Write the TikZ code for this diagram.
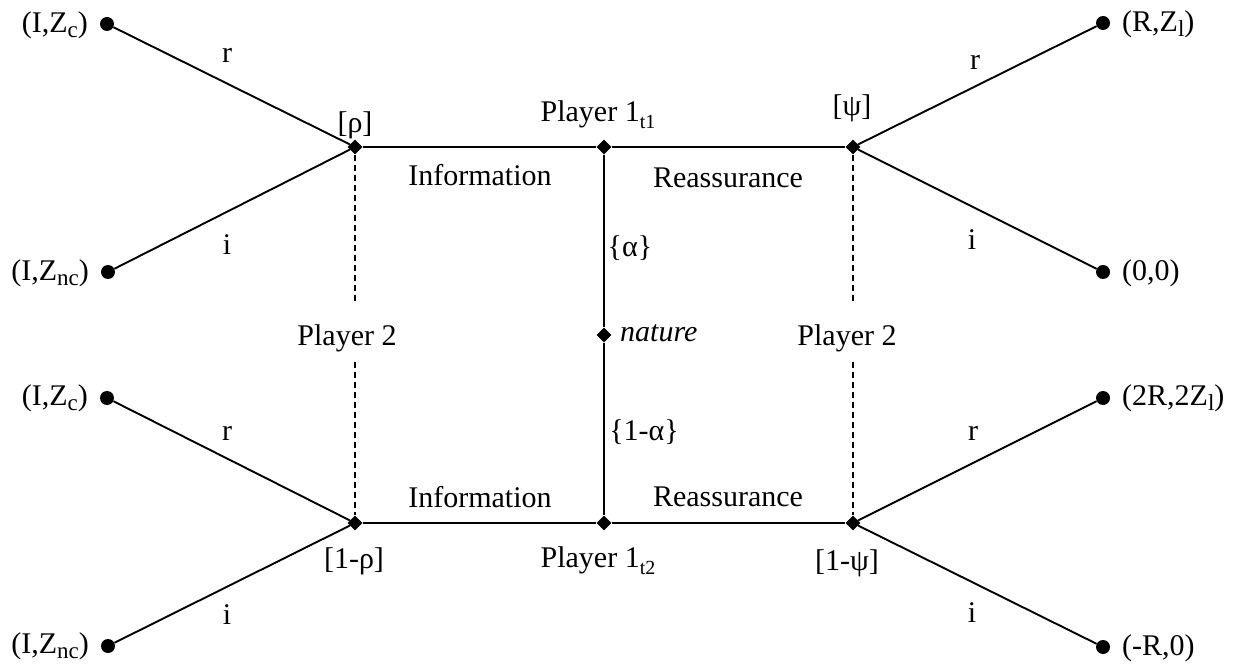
\documentclass[tikz,border=0pt]{standalone}
\usepackage{fontspec}
\setmainfont{Liberation Serif}
\usetikzlibrary{shapes.geometric}
\newcommand\mysub[1]{\raisebox{-7pt}{\fontsize{20}{22}\selectfont #1}}
\newcommand\paysub[1]{\raisebox{-5pt}{\fontsize{23}{26}\selectfont #1}}
\tikzset{
  dec/.style={diamond, fill=black, inner sep=0pt, minimum size=15pt},
  leaf/.style={circle, fill=black, inner sep=0pt, minimum size=14pt},
  txt/.style={inner sep=0pt, font=\fontsize{30}{36}\selectfont},
  edge/.style={line width=1.9pt},
  infoset/.style={line width=1.7pt, dash pattern=on 6pt off 4pt}
}
\begin{document}
\begin{tikzpicture}[x=1pt,y=-1pt]
\useasboundingbox (0,0) rectangle (1237,668);
% decision nodes
\node[dec] (A) at (355,147) {};
\node[dec] (B) at (604,147) {};
\node[dec] (C) at (853,147) {};
\node[dec] (N) at (604,335) {};
\node[dec] (D) at (355,523) {};
\node[dec] (E) at (604,523) {};
\node[dec] (F) at (853,523) {};
% leaves
\node[leaf] (l1) at (107,24) {};
\node[leaf] (l2) at (108,272) {};
\node[leaf] (l3) at (107,398) {};
\node[leaf] (l4) at (108,646) {};
\node[leaf] (r1) at (1103,23) {};
\node[leaf] (r2) at (1103,272) {};
\node[leaf] (r3) at (1103,398) {};
\node[leaf] (r4) at (1103,647) {};
% edges
\draw[edge] (A) -- (B) -- (C);
\draw[edge] (B) -- (N) -- (E);
\draw[edge] (D) -- (E) -- (F);
\draw[edge] (l1) -- (A);
\draw[edge] (l2) -- (A);
\draw[edge] (l3) -- (D);
\draw[edge] (l4) -- (D);
\draw[edge] (r1) -- (C);
\draw[edge] (r2) -- (C);
\draw[edge] (r3) -- (F);
\draw[edge] (r4) -- (F);
% information sets
\coordinate (da1) at (355,303);
\coordinate (da2) at (355,362);
\coordinate (dc1) at (853,303);
\coordinate (dc2) at (853,362);
\draw[infoset] (A) -- (da1);
\draw[infoset] (da2) -- (D);
\draw[infoset] (C) -- (dc1);
\draw[infoset] (dc2) -- (F);
% leaf payoffs
\node[txt, anchor=east] (pl1) at (88,25) {(I,Z\paysub{c})};
\node[txt, anchor=east] (pl2) at (89,273) {(I,Z\paysub{nc})};
\node[txt, anchor=east] (pl3) at (88,398) {(I,Z\paysub{c})};
\node[txt, anchor=east] (pl4) at (89,646) {(I,Z\paysub{nc})};
\node[txt, anchor=west] (pr1) at (1122,24) {(R,Z\paysub{l})};
\node[txt, anchor=west] (pr2) at (1122,273) {(0,0)};
\node[txt, anchor=west] (pr3) at (1122,398) {(2R,2Z\paysub{l})};
\node[txt, anchor=west] (pr4) at (1122,648) {(-R,0)};
% action labels
\node[txt] (a1) at (227,55) {r};
\node[txt] (a2) at (227,245) {i};
\node[txt] (a3) at (227,433) {r};
\node[txt] (a4) at (227,615) {i};
\node[txt] (a5) at (975,62) {r};
\node[txt] (a6) at (972,240) {i};
\node[txt] (a7) at (973,433) {r};
\node[txt] (a8) at (972,613) {i};
% beliefs and players
\node[txt] (bA) at (355,125) {[ρ]};
\node[txt] (bC) at (852,108) {[ψ]};
\node[txt] (bD) at (354,561) {[1-ρ]};
\node[txt] (bF) at (847,563) {[1-ψ]};
\node[txt, anchor=base] (p1) at (598,122) {Player 1\mysub{t1}};
\node[txt, anchor=base] (p2) at (598,567) {Player 1\mysub{t2}};
\node[txt] (q1) at (347,338) {Player 2};
\node[txt] (q2) at (847,338) {Player 2};
\node[txt, anchor=west] (nat) at (620,333) {\itshape nature};
\node[txt] (al) at (630,248) {\{α\}};
\node[txt] (al2) at (644,432) {\{1-α\}};
\node[txt] (i1) at (480,175) {Information};
\node[txt] (i2) at (480,497) {Information};
\node[txt] (re1) at (728,178) {Reassurance};
\node[txt] (re2) at (728,497) {Reassurance};
\end{tikzpicture}
\end{document}
